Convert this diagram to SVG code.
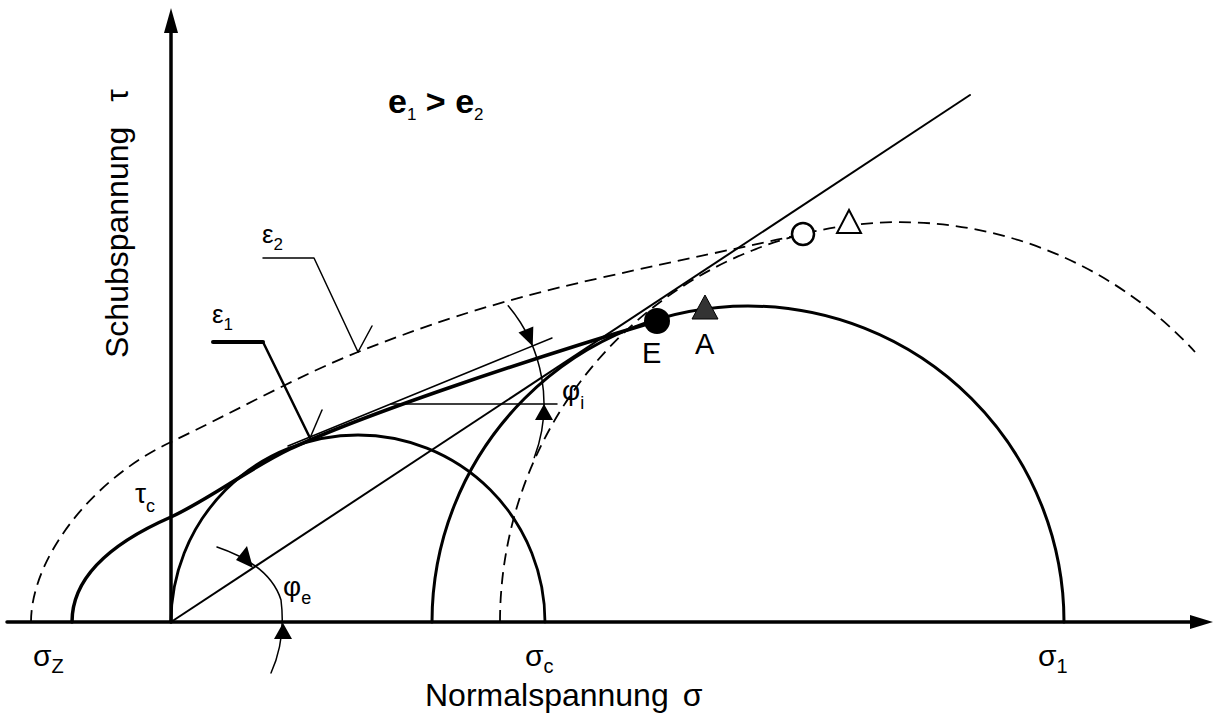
<svg xmlns="http://www.w3.org/2000/svg" width="1215" height="725" viewBox="0 0 1215 725">
<style>
.t{font-family:"Liberation Sans",Arial,sans-serif;fill:#000}
.ln{fill:none;stroke:#000;stroke-linecap:round;stroke-linejoin:round}
.dash{fill:none;stroke:#000;stroke-width:1.8;stroke-dasharray:12 7}
</style>
<rect width="1215" height="725" fill="#fff"/>
<g id="axes">
<line class="ln" x1="7" y1="622" x2="1195" y2="622" stroke-width="3.5"/>
<polygon points="1213,622 1190,615 1190,629" fill="#000"/>
<line class="ln" x1="171" y1="622" x2="171" y2="30" stroke-width="3.5"/>
<polygon points="171,8 164,33 178,33" fill="#000"/>
</g>
<g id="connectors">
<path id="circle-small" class="ln" stroke-width="2.8" d="M171,622 A187,187 0 0 1 545,622"/>
<path id="circle-big" class="ln" stroke-width="3" d="M432,622 A316,316 0 0 1 1064,622"/>
<path id="circle-dashed" class="dash" d="M500,622 A400,400 0 0 1 1195,352"/>
<path id="env-e1" class="ln" stroke-width="3.5" d="M72,622 C72,585 100,548 171,517 C210,499 250,468 290,449 C360,416 520,362 657,321"/>
<path id="env-e2" class="dash" d="M31,622 C31,560 90,480 171,442 C230,414 300,375 358,352 C420,328 480,305 600,278 C680,260 740,248 803,234"/>
<line id="line-phie" class="ln" stroke-width="2" x1="171" y1="622" x2="970" y2="95"/>
<line id="line-phii" class="ln" stroke-width="1.5" x1="288" y1="446" x2="552" y2="338"/>
<line id="hline-phii" class="ln" stroke-width="1.5" x1="391" y1="404" x2="557" y2="404"/>
<path id="arc-phii" class="ln" stroke-width="1.5" d="M508.2,305.7 A153,153 0 0 1 534.3,457.6"/>
<polygon points="532.7,346.2 533.3,326.5 518.5,332.5" fill="#000"/>
<polygon points="544,404 535,420 553,420" fill="#000"/>
<path id="arc-phie" class="ln" stroke-width="1.5" d="M217,547 Q270,565 281,600 Q286,640 271,673"/>
<polygon points="253,568 236,560 247,546" fill="#000"/>
<polygon points="283,623 274,639 292,639" fill="#000"/>
<polyline class="ln" stroke-width="1.5" points="263,258 314,258 358,352"/>
<line class="ln" stroke-width="1.5" x1="358" y1="352" x2="372" y2="326"/>
<line class="ln" stroke-width="4" x1="213" y1="342" x2="263" y2="342"/>
<line class="ln" stroke-width="2.5" x1="263" y1="342" x2="310" y2="438"/>
<line class="ln" stroke-width="1.5" x1="310" y1="438" x2="322" y2="410"/>
</g>
<g id="node-E"><circle cx="657" cy="321" r="13" fill="#000"/><text class="t" x="642" y="363" font-size="29">E</text></g>
<g id="node-A"><polygon points="705,295 692,319 718,319" fill="#333" stroke="#000" stroke-width="1"/><text class="t" x="695" y="354" font-size="29">A</text></g>
<g id="node-open-circle"><circle cx="803" cy="234" r="11" fill="#fff" stroke="#000" stroke-width="2.5"/></g>
<g id="node-open-triangle"><polygon points="849,210 837,233 861,233" fill="#fff" stroke="#000" stroke-width="2"/></g>
<g id="labels">
<text class="t" x="388" y="113" font-size="34" font-weight="bold">e<tspan font-size="17" font-weight="normal" dy="7">1</tspan><tspan dy="-7"> &gt; e</tspan><tspan font-size="17" font-weight="normal" dy="7">2</tspan></text>
<text class="t" x="262" y="243" font-size="26">ε<tspan font-size="17" dy="7">2</tspan></text>
<text class="t" x="212" y="323" font-size="26">ε<tspan font-size="17" dy="7">1</tspan></text>
<text class="t" x="135" y="503" font-size="28">τ<tspan font-size="18" dy="9">c</tspan></text>
<text class="t" x="283" y="596" font-size="28">φ<tspan font-size="18" dy="8">e</tspan></text>
<text class="t" x="562" y="400" font-size="28">φ<tspan font-size="18" dy="9">i</tspan></text>
<text class="t" x="33" y="666" font-size="30">σ<tspan font-size="20" dy="7">Z</tspan></text>
<text class="t" x="525" y="666" font-size="30">σ<tspan font-size="20" dy="7">c</tspan></text>
<text class="t" x="1038" y="666" font-size="30">σ<tspan font-size="20" dy="7">1</tspan></text>
<text class="t" x="425" y="706" font-size="32">Normalspannung<tspan dx="14">σ</tspan></text>
<text class="t" transform="translate(128,358) rotate(-90)" font-size="32">Schubspannung<tspan dx="25">τ</tspan></text>
</g>
</svg>
